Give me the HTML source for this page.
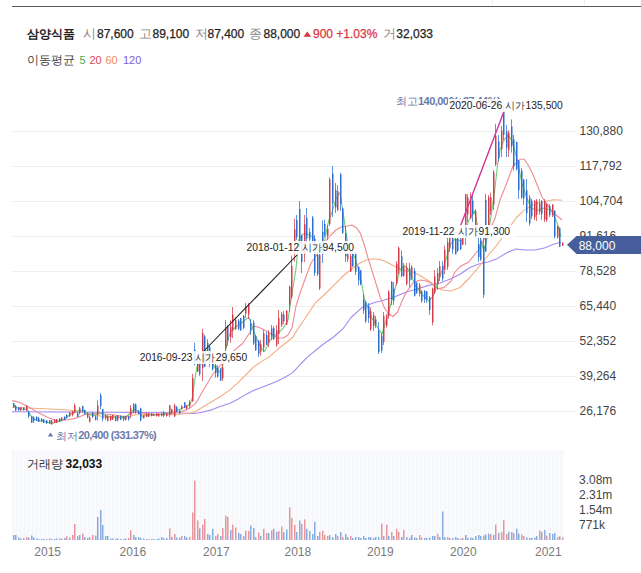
<!DOCTYPE html>
<html><head><meta charset="utf-8">
<style>
*{margin:0;padding:0;box-sizing:border-box}
html,body{width:641px;height:573px;overflow:hidden;background:#fff}
body{position:relative;font-family:"Liberation Sans",sans-serif;color:#222}
.t{position:absolute;white-space:nowrap;line-height:1}
.h{-webkit-text-stroke:0.25px currentColor}
</style></head><body>
<div style="position:absolute;left:12px;top:6px;width:629px;height:1px;background:#5a5a5a"></div>
<div style="position:absolute;left:492px;top:0;width:1px;height:5px;background:#ececec"></div>
<div style="position:absolute;left:584px;top:0;width:1px;height:5px;background:#ececec"></div>
<svg style="position:absolute;left:0;top:0" width="641" height="573" viewBox="0 0 641 573">
<defs><pattern id="vs" x="12" y="0" width="4" height="10" patternUnits="userSpaceOnUse"><rect width="4" height="10" fill="#f9fafc"/><rect width="1" height="10" fill="#f4f6f9"/></pattern></defs>
<g stroke="#efefef" stroke-width="1"><line x1="12" y1="131.5" x2="576" y2="131.5"/><line x1="12" y1="166.5" x2="576" y2="166.5"/><line x1="12" y1="201.5" x2="576" y2="201.5"/><line x1="12" y1="236.5" x2="576" y2="236.5"/><line x1="12" y1="271.5" x2="576" y2="271.5"/><line x1="12" y1="306.5" x2="576" y2="306.5"/><line x1="12" y1="341.5" x2="576" y2="341.5"/><line x1="12" y1="376.5" x2="576" y2="376.5"/><line x1="12" y1="411.5" x2="576" y2="411.5"/></g>
<rect x="12" y="450" width="552" height="90" fill="url(#vs)"/>
<g><rect x="13" y="535.0" width="1.5" height="5.0" fill="#86ace0"/><rect x="15" y="535.0" width="1.5" height="5.0" fill="#86ace0"/><rect x="18" y="537.5" width="1.5" height="2.5" fill="#86ace0"/><rect x="20" y="538.5" width="1.5" height="1.5" fill="#86ace0"/><rect x="23" y="538.0" width="1.5" height="2.0" fill="#e8959b"/><rect x="26" y="537.0" width="1.5" height="3.0" fill="#e8959b"/><rect x="28" y="537.6" width="1.5" height="2.4" fill="#86ace0"/><rect x="31" y="535.5" width="1.5" height="4.5" fill="#86ace0"/><rect x="33" y="537.5" width="1.5" height="2.5" fill="#86ace0"/><rect x="36" y="538.5" width="1.5" height="1.5" fill="#86ace0"/><rect x="38" y="539.0" width="1.5" height="1.0" fill="#86ace0"/><rect x="41" y="539.0" width="1.5" height="1.0" fill="#86ace0"/><rect x="43" y="539.0" width="1.5" height="1.0" fill="#86ace0"/><rect x="46" y="539.0" width="1.5" height="1.0" fill="#86ace0"/><rect x="49" y="538.5" width="1.5" height="1.5" fill="#86ace0"/><rect x="51" y="539.0" width="1.5" height="1.0" fill="#e8959b"/><rect x="54" y="539.0" width="1.5" height="1.0" fill="#86ace0"/><rect x="56" y="538.5" width="1.5" height="1.5" fill="#86ace0"/><rect x="59" y="538.5" width="1.5" height="1.5" fill="#86ace0"/><rect x="61" y="538.5" width="1.5" height="1.5" fill="#e8959b"/><rect x="64" y="538.0" width="1.5" height="2.0" fill="#86ace0"/><rect x="66" y="536.3" width="1.5" height="3.7" fill="#e8959b"/><rect x="69" y="537.5" width="1.5" height="2.5" fill="#86ace0"/><rect x="72" y="535.0" width="1.5" height="5.0" fill="#e8959b"/><rect x="74" y="524.0" width="1.5" height="16.0" fill="#e8959b"/><rect x="77" y="536.3" width="1.5" height="3.7" fill="#86ace0"/><rect x="79" y="535.0" width="1.5" height="5.0" fill="#86ace0"/><rect x="82" y="533.5" width="1.5" height="6.5" fill="#e8959b"/><rect x="84" y="537.0" width="1.5" height="3.0" fill="#86ace0"/><rect x="87" y="538.0" width="1.5" height="2.0" fill="#86ace0"/><rect x="89" y="537.0" width="1.5" height="3.0" fill="#e8959b"/><rect x="92" y="535.0" width="1.5" height="5.0" fill="#e8959b"/><rect x="95" y="535.5" width="1.5" height="4.5" fill="#86ace0"/><rect x="97" y="517.0" width="1.5" height="23.0" fill="#a898cc"/><rect x="100" y="510.0" width="1.5" height="30.0" fill="#86ace0"/><rect x="102" y="525.0" width="1.5" height="15.0" fill="#86ace0"/><rect x="105" y="536.0" width="1.5" height="4.0" fill="#86ace0"/><rect x="107" y="536.0" width="1.5" height="4.0" fill="#86ace0"/><rect x="110" y="538.5" width="1.5" height="1.5" fill="#86ace0"/><rect x="112" y="538.5" width="1.5" height="1.5" fill="#86ace0"/><rect x="115" y="538.7" width="1.5" height="1.3" fill="#86ace0"/><rect x="117" y="538.5" width="1.5" height="1.5" fill="#86ace0"/><rect x="120" y="539.0" width="1.5" height="1.0" fill="#86ace0"/><rect x="123" y="539.0" width="1.5" height="1.0" fill="#86ace0"/><rect x="125" y="538.5" width="1.5" height="1.5" fill="#86ace0"/><rect x="128" y="538.0" width="1.5" height="2.0" fill="#e8959b"/><rect x="130" y="530.3" width="1.5" height="9.7" fill="#e8959b"/><rect x="133" y="535.0" width="1.5" height="5.0" fill="#86ace0"/><rect x="135" y="537.0" width="1.5" height="3.0" fill="#86ace0"/><rect x="138" y="537.0" width="1.5" height="3.0" fill="#86ace0"/><rect x="140" y="538.0" width="1.5" height="2.0" fill="#86ace0"/><rect x="143" y="538.5" width="1.5" height="1.5" fill="#86ace0"/><rect x="146" y="539.0" width="1.5" height="1.0" fill="#86ace0"/><rect x="148" y="539.0" width="1.5" height="1.0" fill="#e8959b"/><rect x="151" y="539.0" width="1.5" height="1.0" fill="#86ace0"/><rect x="153" y="539.0" width="1.5" height="1.0" fill="#86ace0"/><rect x="156" y="539.0" width="1.5" height="1.0" fill="#86ace0"/><rect x="158" y="538.5" width="1.5" height="1.5" fill="#86ace0"/><rect x="161" y="537.0" width="1.5" height="3.0" fill="#86ace0"/><rect x="163" y="538.3" width="1.5" height="1.7" fill="#86ace0"/><rect x="166" y="538.0" width="1.5" height="2.0" fill="#86ace0"/><rect x="169" y="528.4" width="1.5" height="11.6" fill="#e8959b"/><rect x="171" y="537.0" width="1.5" height="3.0" fill="#86ace0"/><rect x="174" y="534.0" width="1.5" height="6.0" fill="#e8959b"/><rect x="176" y="537.5" width="1.5" height="2.5" fill="#86ace0"/><rect x="179" y="537.7" width="1.5" height="2.3" fill="#86ace0"/><rect x="181" y="536.0" width="1.5" height="4.0" fill="#e8959b"/><rect x="184" y="536.0" width="1.5" height="4.0" fill="#86ace0"/><rect x="186" y="537.5" width="1.5" height="2.5" fill="#86ace0"/><rect x="189" y="537.0" width="1.5" height="3.0" fill="#e8959b"/><rect x="192" y="512.5" width="1.5" height="27.5" fill="#e8959b"/><rect x="194" y="480.6" width="1.5" height="59.4" fill="#e8959b"/><rect x="197" y="520.5" width="1.5" height="19.5" fill="#e8959b"/><rect x="199" y="528.4" width="1.5" height="11.6" fill="#86ace0"/><rect x="202" y="524.6" width="1.5" height="15.4" fill="#e8959b"/><rect x="204" y="519.0" width="1.5" height="21.0" fill="#e8959b"/><rect x="207" y="534.0" width="1.5" height="6.0" fill="#86ace0"/><rect x="209" y="535.0" width="1.5" height="5.0" fill="#86ace0"/><rect x="212" y="528.8" width="1.5" height="11.2" fill="#86ace0"/><rect x="215" y="536.0" width="1.5" height="4.0" fill="#e8959b"/><rect x="217" y="534.0" width="1.5" height="6.0" fill="#e8959b"/><rect x="220" y="536.0" width="1.5" height="4.0" fill="#86ace0"/><rect x="222" y="528.0" width="1.5" height="12.0" fill="#e8959b"/><rect x="225" y="515.7" width="1.5" height="24.3" fill="#e8959b"/><rect x="227" y="516.8" width="1.5" height="23.2" fill="#e8959b"/><rect x="230" y="530.0" width="1.5" height="10.0" fill="#86ace0"/><rect x="232" y="524.6" width="1.5" height="15.4" fill="#e8959b"/><rect x="235" y="527.5" width="1.5" height="12.5" fill="#e8959b"/><rect x="238" y="533.0" width="1.5" height="7.0" fill="#86ace0"/><rect x="240" y="534.0" width="1.5" height="6.0" fill="#86ace0"/><rect x="243" y="536.0" width="1.5" height="4.0" fill="#86ace0"/><rect x="245" y="530.6" width="1.5" height="9.4" fill="#e8959b"/><rect x="248" y="531.0" width="1.5" height="9.0" fill="#e8959b"/><rect x="250" y="525.6" width="1.5" height="14.4" fill="#86ace0"/><rect x="253" y="528.0" width="1.5" height="12.0" fill="#86ace0"/><rect x="255" y="537.0" width="1.5" height="3.0" fill="#e8959b"/><rect x="258" y="532.5" width="1.5" height="7.5" fill="#e8959b"/><rect x="260" y="536.0" width="1.5" height="4.0" fill="#86ace0"/><rect x="263" y="528.8" width="1.5" height="11.2" fill="#e8959b"/><rect x="266" y="533.0" width="1.5" height="7.0" fill="#e8959b"/><rect x="268" y="533.0" width="1.5" height="7.0" fill="#86ace0"/><rect x="271" y="530.3" width="1.5" height="9.7" fill="#e8959b"/><rect x="273" y="528.8" width="1.5" height="11.2" fill="#86ace0"/><rect x="276" y="532.0" width="1.5" height="8.0" fill="#86ace0"/><rect x="278" y="531.0" width="1.5" height="9.0" fill="#e8959b"/><rect x="281" y="526.5" width="1.5" height="13.5" fill="#e8959b"/><rect x="283" y="532.0" width="1.5" height="8.0" fill="#86ace0"/><rect x="286" y="529.5" width="1.5" height="10.5" fill="#86ace0"/><rect x="289" y="507.4" width="1.5" height="32.6" fill="#e8959b"/><rect x="291" y="518.0" width="1.5" height="22.0" fill="#e8959b"/><rect x="294" y="525.0" width="1.5" height="15.0" fill="#e8959b"/><rect x="296" y="532.0" width="1.5" height="8.0" fill="#86ace0"/><rect x="299" y="520.5" width="1.5" height="19.5" fill="#86ace0"/><rect x="301" y="523.7" width="1.5" height="16.3" fill="#e8959b"/><rect x="304" y="519.4" width="1.5" height="20.6" fill="#e8959b"/><rect x="306" y="528.8" width="1.5" height="11.2" fill="#86ace0"/><rect x="309" y="531.0" width="1.5" height="9.0" fill="#86ace0"/><rect x="312" y="534.0" width="1.5" height="6.0" fill="#86ace0"/><rect x="314" y="521.8" width="1.5" height="18.2" fill="#86ace0"/><rect x="317" y="536.0" width="1.5" height="4.0" fill="#86ace0"/><rect x="319" y="532.0" width="1.5" height="8.0" fill="#e8959b"/><rect x="322" y="530.6" width="1.5" height="9.4" fill="#e8959b"/><rect x="324" y="535.0" width="1.5" height="5.0" fill="#e8959b"/><rect x="327" y="536.0" width="1.5" height="4.0" fill="#e8959b"/><rect x="329" y="535.0" width="1.5" height="5.0" fill="#86ace0"/><rect x="332" y="537.0" width="1.5" height="3.0" fill="#86ace0"/><rect x="335" y="534.0" width="1.5" height="6.0" fill="#86ace0"/><rect x="337" y="536.0" width="1.5" height="4.0" fill="#e8959b"/><rect x="340" y="532.0" width="1.5" height="8.0" fill="#86ace0"/><rect x="342" y="537.0" width="1.5" height="3.0" fill="#e8959b"/><rect x="345" y="534.0" width="1.5" height="6.0" fill="#86ace0"/><rect x="347" y="537.0" width="1.5" height="3.0" fill="#86ace0"/><rect x="350" y="536.0" width="1.5" height="4.0" fill="#e8959b"/><rect x="352" y="538.0" width="1.5" height="2.0" fill="#86ace0"/><rect x="355" y="537.0" width="1.5" height="3.0" fill="#86ace0"/><rect x="358" y="537.0" width="1.5" height="3.0" fill="#86ace0"/><rect x="360" y="538.0" width="1.5" height="2.0" fill="#86ace0"/><rect x="363" y="536.0" width="1.5" height="4.0" fill="#86ace0"/><rect x="365" y="538.0" width="1.5" height="2.0" fill="#86ace0"/><rect x="368" y="537.0" width="1.5" height="3.0" fill="#86ace0"/><rect x="370" y="537.0" width="1.5" height="3.0" fill="#86ace0"/><rect x="373" y="538.0" width="1.5" height="2.0" fill="#86ace0"/><rect x="375" y="537.0" width="1.5" height="3.0" fill="#86ace0"/><rect x="378" y="537.0" width="1.5" height="3.0" fill="#86ace0"/><rect x="381" y="523.7" width="1.5" height="16.3" fill="#e8959b"/><rect x="383" y="536.0" width="1.5" height="4.0" fill="#86ace0"/><rect x="386" y="524.6" width="1.5" height="15.4" fill="#e8959b"/><rect x="388" y="536.0" width="1.5" height="4.0" fill="#86ace0"/><rect x="391" y="532.1" width="1.5" height="7.9" fill="#e8959b"/><rect x="393" y="536.0" width="1.5" height="4.0" fill="#86ace0"/><rect x="396" y="528.8" width="1.5" height="11.2" fill="#e8959b"/><rect x="398" y="531.8" width="1.5" height="8.2" fill="#e8959b"/><rect x="401" y="537.0" width="1.5" height="3.0" fill="#86ace0"/><rect x="403" y="530.0" width="1.5" height="10.0" fill="#e8959b"/><rect x="406" y="537.0" width="1.5" height="3.0" fill="#86ace0"/><rect x="409" y="538.0" width="1.5" height="2.0" fill="#86ace0"/><rect x="411" y="535.0" width="1.5" height="5.0" fill="#a898cc"/><rect x="414" y="537.5" width="1.5" height="2.5" fill="#86ace0"/><rect x="416" y="538.0" width="1.5" height="2.0" fill="#86ace0"/><rect x="419" y="535.0" width="1.5" height="5.0" fill="#e8959b"/><rect x="421" y="537.5" width="1.5" height="2.5" fill="#e8959b"/><rect x="424" y="538.0" width="1.5" height="2.0" fill="#86ace0"/><rect x="426" y="538.0" width="1.5" height="2.0" fill="#86ace0"/><rect x="429" y="537.5" width="1.5" height="2.5" fill="#86ace0"/><rect x="432" y="536.0" width="1.5" height="4.0" fill="#86ace0"/><rect x="434" y="536.0" width="1.5" height="4.0" fill="#86ace0"/><rect x="437" y="533.7" width="1.5" height="6.3" fill="#e8959b"/><rect x="439" y="537.0" width="1.5" height="3.0" fill="#86ace0"/><rect x="442" y="511.5" width="1.5" height="28.5" fill="#86ace0"/><rect x="444" y="537.0" width="1.5" height="3.0" fill="#86ace0"/><rect x="447" y="537.0" width="1.5" height="3.0" fill="#e8959b"/><rect x="449" y="538.0" width="1.5" height="2.0" fill="#86ace0"/><rect x="452" y="538.0" width="1.5" height="2.0" fill="#86ace0"/><rect x="455" y="537.0" width="1.5" height="3.0" fill="#86ace0"/><rect x="457" y="538.0" width="1.5" height="2.0" fill="#86ace0"/><rect x="460" y="538.6" width="1.5" height="1.4" fill="#86ace0"/><rect x="462" y="538.0" width="1.5" height="2.0" fill="#e8959b"/><rect x="465" y="535.0" width="1.5" height="5.0" fill="#a898cc"/><rect x="467" y="538.0" width="1.5" height="2.0" fill="#86ace0"/><rect x="470" y="537.5" width="1.5" height="2.5" fill="#86ace0"/><rect x="472" y="538.0" width="1.5" height="2.0" fill="#86ace0"/><rect x="475" y="536.0" width="1.5" height="4.0" fill="#86ace0"/><rect x="478" y="535.0" width="1.5" height="5.0" fill="#86ace0"/><rect x="480" y="536.0" width="1.5" height="4.0" fill="#86ace0"/><rect x="483" y="535.5" width="1.5" height="4.5" fill="#86ace0"/><rect x="485" y="534.4" width="1.5" height="5.6" fill="#86ace0"/><rect x="488" y="533.7" width="1.5" height="6.3" fill="#86ace0"/><rect x="490" y="534.0" width="1.5" height="6.0" fill="#e8959b"/><rect x="493" y="535.0" width="1.5" height="5.0" fill="#86ace0"/><rect x="495" y="524.6" width="1.5" height="15.4" fill="#e8959b"/><rect x="498" y="533.0" width="1.5" height="7.0" fill="#a898cc"/><rect x="501" y="532.1" width="1.5" height="7.9" fill="#e8959b"/><rect x="503" y="520.0" width="1.5" height="20.0" fill="#e8959b"/><rect x="506" y="534.0" width="1.5" height="6.0" fill="#e8959b"/><rect x="508" y="531.8" width="1.5" height="8.2" fill="#86ace0"/><rect x="511" y="532.1" width="1.5" height="7.9" fill="#86ace0"/><rect x="513" y="533.0" width="1.5" height="7.0" fill="#e8959b"/><rect x="516" y="528.8" width="1.5" height="11.2" fill="#86ace0"/><rect x="518" y="533.6" width="1.5" height="6.4" fill="#86ace0"/><rect x="521" y="534.4" width="1.5" height="5.6" fill="#e8959b"/><rect x="523" y="536.0" width="1.5" height="4.0" fill="#e8959b"/><rect x="526" y="537.5" width="1.5" height="2.5" fill="#86ace0"/><rect x="529" y="538.0" width="1.5" height="2.0" fill="#86ace0"/><rect x="531" y="538.0" width="1.5" height="2.0" fill="#86ace0"/><rect x="534" y="537.5" width="1.5" height="2.5" fill="#86ace0"/><rect x="536" y="536.0" width="1.5" height="4.0" fill="#86ace0"/><rect x="539" y="530.6" width="1.5" height="9.4" fill="#e8959b"/><rect x="541" y="531.8" width="1.5" height="8.2" fill="#86ace0"/><rect x="544" y="530.0" width="1.5" height="10.0" fill="#86ace0"/><rect x="546" y="535.5" width="1.5" height="4.5" fill="#e8959b"/><rect x="549" y="533.0" width="1.5" height="7.0" fill="#86ace0"/><rect x="552" y="534.0" width="1.5" height="6.0" fill="#86ace0"/><rect x="554" y="533.0" width="1.5" height="7.0" fill="#86ace0"/><rect x="557" y="537.0" width="1.5" height="3.0" fill="#e8959b"/><rect x="559" y="536.3" width="1.5" height="3.7" fill="#86ace0"/><rect x="562" y="537.5" width="1.5" height="2.5" fill="#e8959b"/></g>
<g fill="none" stroke-width="1.1" stroke-linejoin="round">
<polyline points="12.0,411.8 100.0,412.3 175.0,412.8 193.7,413.5 202.5,412.3 211.2,409.9 220.0,406.4 230.0,403.2 237.8,399.3 245.7,394.6 253.5,390.6 261.4,387.5 269.2,384.4 277.1,381.2 285.0,377.3 292.8,372.6 300.6,364.0 308.5,356.1 316.3,349.8 324.2,343.5 333.6,337.0 343.0,328.7 351.0,317.5 362.0,307.6 373.0,303.0 384.3,300.0 395.4,296.5 406.5,292.0 417.6,288.8 428.7,285.4 440.0,283.0 451.0,278.8 460.0,274.3 469.4,267.7 478.7,264.0 488.0,262.0 497.5,258.4 506.8,252.7 516.0,249.0 525.5,250.0 535.0,250.0 544.3,248.0 553.6,244.3 561.0,242.0" stroke="#a48af0"/>
<polyline points="12.0,407.5 40.0,408.5 65.0,409.8 75.0,410.8 85.0,412.8 95.0,415.0 105.0,417.0 115.0,417.2 125.0,417.5 136.0,414.7 147.0,414.7 158.0,414.7 168.7,414.7 179.6,414.2 186.0,413.5 193.7,412.5 202.5,407.3 211.2,402.0 220.0,396.8 230.0,389.9 237.8,382.8 245.7,375.0 253.5,367.1 261.4,361.6 269.2,356.9 277.1,349.8 285.0,343.5 292.8,337.3 297.5,329.4 305.4,318.0 315.0,303.4 324.0,295.0 333.6,285.6 343.0,276.0 352.0,268.7 360.0,263.0 366.6,260.0 373.0,258.8 380.0,259.5 386.6,262.0 393.0,265.5 400.0,268.8 406.5,271.0 413.0,272.0 420.0,275.5 428.7,281.0 435.3,286.5 442.0,290.0 451.0,291.0 460.0,287.5 469.4,278.0 478.7,266.8 488.0,255.5 497.5,244.3 506.8,231.2 516.0,218.0 523.7,210.6 531.0,206.0 538.6,203.0 546.0,201.2 553.6,199.7 562.0,200.3" stroke="#f5ad80"/>
<polyline points="12.3,400.6 19.4,402.3 28.7,407.0 38.0,412.6 47.5,417.3 54.0,420.0 58.7,421.0 66.2,420.0 75.0,418.4 85.0,414.4 95.0,413.5 105.0,414.0 115.0,415.0 125.0,417.0 130.5,414.0 136.0,411.5 141.4,412.6 146.8,414.2 157.8,414.7 168.7,413.6 174.0,412.9 179.6,412.0 185.0,410.4 190.5,407.7 195.0,403.8 197.2,401.0 202.5,391.6 207.7,382.8 213.0,374.0 218.2,368.0 223.4,362.0 228.6,355.0 233.1,351.4 242.6,343.5 248.8,334.1 253.5,326.3 258.3,327.0 266.1,331.0 274.0,335.7 278.7,338.0 283.4,338.0 288.0,335.0 292.0,327.8 296.0,306.0 300.0,293.0 305.5,278.0 311.0,263.0 315.0,257.5 318.6,252.0 324.0,243.0 330.5,235.5 336.0,230.0 341.8,226.7 347.4,226.0 352.0,225.0 356.8,228.0 360.5,233.6 364.3,245.0 368.0,258.0 373.0,274.0 380.0,296.5 384.3,307.6 388.8,314.0 393.0,316.5 397.6,312.0 402.0,301.0 406.5,292.0 413.0,283.0 420.0,280.0 426.5,281.0 431.0,283.0 437.6,288.8 444.0,287.6 451.0,281.0 455.0,272.0 460.0,266.6 468.7,262.0 478.0,250.5 487.4,233.7 494.9,218.7 500.0,200.0 506.5,183.7 513.0,166.0 520.0,159.3 524.3,159.3 528.7,166.0 533.0,174.8 537.6,186.0 542.0,197.0 546.4,203.6 553.0,212.5 562.0,220.0" stroke="#f08a92"/>
<polyline points="12.8,404.0 15.6,407.0 19.4,408.9 24.0,409.3 26.9,409.8 28.7,412.6 31.5,416.3 34.3,419.0 38.0,420.6 42.8,421.0 47.5,422.4 52.0,423.4 56.8,422.0 61.5,420.6 66.2,418.2 70.0,414.4 75.0,411.8 80.0,410.3 85.0,411.8 90.4,414.9 95.4,415.4 99.5,412.3 103.5,414.4 107.6,416.4 115.7,417.0 125.0,418.0 130.5,413.0 133.7,409.3 137.0,410.4 140.3,414.2 142.5,416.4 146.8,414.7 157.8,414.7 168.7,413.0 173.0,412.0 177.4,410.4 181.8,408.2 186.1,406.6 190.5,403.3 192.3,398.0 194.6,381.0 197.2,365.4 201.0,364.0 204.2,353.0 207.7,349.7 211.0,360.0 214.7,367.0 220.0,372.4 223.4,363.6 226.9,342.7 230.4,332.2 235.6,327.0 240.8,323.5 245.0,320.0 249.0,317.4 252.0,326.3 256.7,338.8 261.4,348.3 264.5,351.4 269.2,342.0 274.0,335.7 278.7,332.6 283.4,327.8 288.0,320.0 292.4,291.0 296.0,268.7 298.7,240.0 302.0,234.5 306.0,233.6 313.7,237.4 319.0,254.0 325.0,239.0 328.7,220.5 332.4,211.0 336.2,198.0 340.0,192.5 343.7,216.8 347.4,241.0 351.0,250.5 355.0,258.0 360.0,274.3 364.4,298.7 371.0,316.5 377.7,327.6 382.0,334.0 386.6,318.7 393.0,296.5 400.0,270.0 404.3,265.5 408.7,270.0 415.4,285.4 422.0,294.3 428.7,301.0 433.0,296.5 437.6,283.0 444.0,265.5 451.0,243.3 455.3,238.9 461.0,241.0 465.0,232.0 468.7,220.5 474.3,211.0 480.0,235.5 483.6,250.5 487.4,237.4 491.0,216.8 494.9,188.7 497.5,165.0 500.0,150.4 504.3,139.3 508.7,135.0 513.2,143.8 517.6,161.5 522.0,183.7 526.5,197.0 531.0,208.0 537.6,210.3 544.0,208.0 551.0,210.3 555.3,219.0 557.4,223.7 561.0,236.8" stroke="#74cc78"/>
</g>
<g><rect x="13" y="402.8" width="1" height="4.6" fill="#2b6fd0" opacity=".75"/><rect x="13" y="403.2" width="1.5" height="3.9" fill="#2b6fd0"/><rect x="15" y="405.0" width="1" height="5.7" fill="#2b6fd0" opacity=".75"/><rect x="15" y="406.1" width="1.5" height="4.5" fill="#2b6fd0"/><rect x="18" y="407.0" width="1" height="3.7" fill="#2b6fd0" opacity=".75"/><rect x="18" y="407.6" width="1.5" height="2.7" fill="#2b6fd0"/><rect x="20" y="407.0" width="1" height="3.7" fill="#d23c4b" opacity=".75"/><rect x="20" y="407.1" width="1.5" height="3.1" fill="#d23c4b"/><rect x="23" y="407.5" width="1" height="3.0" fill="#2b6fd0" opacity=".75"/><rect x="23" y="407.5" width="1.5" height="2.6" fill="#2b6fd0"/><rect x="26" y="405.6" width="1" height="5.1" fill="#d23c4b" opacity=".75"/><rect x="26" y="405.7" width="1.5" height="4.9" fill="#d23c4b"/><rect x="28" y="410.7" width="1" height="7.5" fill="#2b6fd0" opacity=".75"/><rect x="28" y="411.7" width="1.5" height="4.7" fill="#2b6fd0"/><rect x="31" y="416.3" width="1" height="6.7" fill="#2b6fd0" opacity=".75"/><rect x="31" y="416.5" width="1.5" height="6.0" fill="#2b6fd0"/><rect x="33" y="416.3" width="1" height="6.7" fill="#2b6fd0" opacity=".75"/><rect x="33" y="417.6" width="1.5" height="3.5" fill="#2b6fd0"/><rect x="36" y="416.3" width="1" height="4.7" fill="#2b6fd0" opacity=".75"/><rect x="36" y="417.1" width="1.5" height="3.3" fill="#2b6fd0"/><rect x="38" y="416.8" width="1" height="5.2" fill="#2b6fd0" opacity=".75"/><rect x="38" y="418.3" width="1.5" height="3.6" fill="#2b6fd0"/><rect x="41" y="418.0" width="1" height="4.0" fill="#2b6fd0" opacity=".75"/><rect x="41" y="419.0" width="1.5" height="2.6" fill="#2b6fd0"/><rect x="43" y="419.0" width="1" height="4.0" fill="#2b6fd0" opacity=".75"/><rect x="43" y="419.2" width="1.5" height="3.7" fill="#2b6fd0"/><rect x="46" y="420.0" width="1" height="4.0" fill="#2b6fd0" opacity=".75"/><rect x="46" y="420.4" width="1.5" height="2.7" fill="#2b6fd0"/><rect x="49" y="420.0" width="1" height="4.0" fill="#2b6fd0" opacity=".75"/><rect x="49" y="420.2" width="1.5" height="3.1" fill="#2b6fd0"/><rect x="51" y="420.0" width="1" height="4.8" fill="#d23c4b" opacity=".75"/><rect x="51" y="420.9" width="1.5" height="3.3" fill="#d23c4b"/><rect x="54" y="419.0" width="1" height="4.0" fill="#d23c4b" opacity=".75"/><rect x="54" y="419.7" width="1.5" height="3.3" fill="#d23c4b"/><rect x="56" y="419.0" width="1" height="4.0" fill="#d23c4b" opacity=".75"/><rect x="56" y="419.1" width="1.5" height="3.7" fill="#d23c4b"/><rect x="59" y="418.0" width="1" height="4.0" fill="#2b6fd0" opacity=".75"/><rect x="59" y="418.8" width="1.5" height="2.7" fill="#2b6fd0"/><rect x="61" y="417.3" width="1" height="3.7" fill="#d23c4b" opacity=".75"/><rect x="61" y="417.6" width="1.5" height="2.7" fill="#d23c4b"/><rect x="64" y="416.3" width="1" height="3.7" fill="#2b6fd0" opacity=".75"/><rect x="64" y="416.8" width="1.5" height="2.9" fill="#2b6fd0"/><rect x="66" y="414.0" width="1" height="4.4" fill="#2b6fd0" opacity=".75"/><rect x="66" y="415.0" width="1.5" height="2.4" fill="#2b6fd0"/><rect x="69" y="412.0" width="1" height="5.0" fill="#d23c4b" opacity=".75"/><rect x="69" y="412.4" width="1.5" height="3.8" fill="#d23c4b"/><rect x="72" y="410.8" width="1" height="5.6" fill="#d23c4b" opacity=".75"/><rect x="72" y="411.7" width="1.5" height="3.2" fill="#d23c4b"/><rect x="74" y="403.2" width="1" height="10.2" fill="#d23c4b" opacity=".75"/><rect x="74" y="405.4" width="1.5" height="7.1" fill="#d23c4b"/><rect x="77" y="411.8" width="1" height="5.2" fill="#2b6fd0" opacity=".75"/><rect x="77" y="413.3" width="1.5" height="3.5" fill="#2b6fd0"/><rect x="79" y="406.8" width="1" height="7.6" fill="#d23c4b" opacity=".75"/><rect x="79" y="407.8" width="1.5" height="4.9" fill="#d23c4b"/><rect x="82" y="405.7" width="1" height="6.6" fill="#2b6fd0" opacity=".75"/><rect x="82" y="406.0" width="1.5" height="5.3" fill="#2b6fd0"/><rect x="84" y="409.8" width="1" height="5.1" fill="#2b6fd0" opacity=".75"/><rect x="84" y="409.9" width="1.5" height="4.0" fill="#2b6fd0"/><rect x="87" y="412.5" width="1" height="5.9" fill="#d23c4b" opacity=".75"/><rect x="87" y="413.9" width="1.5" height="3.5" fill="#d23c4b"/><rect x="89" y="415.5" width="1" height="7.0" fill="#d23c4b" opacity=".75"/><rect x="89" y="417.3" width="1.5" height="4.5" fill="#d23c4b"/><rect x="92" y="411.8" width="1" height="6.2" fill="#2b6fd0" opacity=".75"/><rect x="92" y="413.1" width="1.5" height="3.8" fill="#2b6fd0"/><rect x="95" y="415.4" width="1" height="5.1" fill="#2b6fd0" opacity=".75"/><rect x="95" y="416.3" width="1.5" height="3.5" fill="#2b6fd0"/><rect x="97" y="400.2" width="1" height="20.3" fill="#d23c4b" opacity=".75"/><rect x="97" y="405.3" width="1.5" height="9.4" fill="#d23c4b"/><rect x="100" y="393.0" width="1" height="16.3" fill="#2b6fd0" opacity=".75"/><rect x="100" y="395.3" width="1.5" height="10.7" fill="#2b6fd0"/><rect x="102" y="408.8" width="1" height="12.7" fill="#2b6fd0" opacity=".75"/><rect x="102" y="409.0" width="1.5" height="9.8" fill="#2b6fd0"/><rect x="105" y="414.5" width="1" height="5.5" fill="#d23c4b" opacity=".75"/><rect x="105" y="415.6" width="1.5" height="2.8" fill="#d23c4b"/><rect x="107" y="415.0" width="1" height="6.5" fill="#d23c4b" opacity=".75"/><rect x="107" y="416.6" width="1.5" height="4.3" fill="#d23c4b"/><rect x="110" y="415.5" width="1" height="5.5" fill="#d23c4b" opacity=".75"/><rect x="110" y="416.1" width="1.5" height="3.8" fill="#d23c4b"/><rect x="112" y="415.0" width="1" height="5.0" fill="#d23c4b" opacity=".75"/><rect x="112" y="415.0" width="1.5" height="4.3" fill="#d23c4b"/><rect x="115" y="416.0" width="1" height="5.0" fill="#2b6fd0" opacity=".75"/><rect x="115" y="416.3" width="1.5" height="4.6" fill="#2b6fd0"/><rect x="117" y="415.0" width="1" height="6.5" fill="#d23c4b" opacity=".75"/><rect x="117" y="415.1" width="1.5" height="4.9" fill="#d23c4b"/><rect x="120" y="415.5" width="1" height="4.5" fill="#2b6fd0" opacity=".75"/><rect x="120" y="415.7" width="1.5" height="4.0" fill="#2b6fd0"/><rect x="123" y="415.5" width="1" height="5.5" fill="#2b6fd0" opacity=".75"/><rect x="123" y="416.1" width="1.5" height="3.4" fill="#2b6fd0"/><rect x="125" y="415.8" width="1" height="4.9" fill="#d23c4b" opacity=".75"/><rect x="125" y="415.9" width="1.5" height="4.1" fill="#d23c4b"/><rect x="128" y="415.8" width="1" height="4.9" fill="#2b6fd0" opacity=".75"/><rect x="128" y="416.6" width="1.5" height="2.8" fill="#2b6fd0"/><rect x="130" y="405.0" width="1" height="13.0" fill="#d23c4b" opacity=".75"/><rect x="130" y="408.2" width="1.5" height="6.4" fill="#d23c4b"/><rect x="133" y="403.3" width="1" height="9.7" fill="#2b6fd0" opacity=".75"/><rect x="133" y="404.1" width="1.5" height="7.7" fill="#2b6fd0"/><rect x="135" y="403.3" width="1" height="10.4" fill="#2b6fd0" opacity=".75"/><rect x="135" y="404.4" width="1.5" height="6.5" fill="#2b6fd0"/><rect x="138" y="409.8" width="1" height="4.4" fill="#2b6fd0" opacity=".75"/><rect x="138" y="411.1" width="1.5" height="2.9" fill="#2b6fd0"/><rect x="140" y="407.7" width="1" height="13.6" fill="#2b6fd0" opacity=".75"/><rect x="140" y="408.4" width="1.5" height="11.9" fill="#2b6fd0"/><rect x="143" y="415.3" width="1" height="3.3" fill="#d23c4b" opacity=".75"/><rect x="143" y="415.5" width="1.5" height="2.6" fill="#d23c4b"/><rect x="146" y="412.6" width="1" height="4.4" fill="#d23c4b" opacity=".75"/><rect x="146" y="413.4" width="1.5" height="3.3" fill="#d23c4b"/><rect x="148" y="413.0" width="1" height="4.0" fill="#d23c4b" opacity=".75"/><rect x="148" y="413.0" width="1.5" height="3.5" fill="#d23c4b"/><rect x="151" y="413.0" width="1" height="3.5" fill="#d23c4b" opacity=".75"/><rect x="151" y="413.4" width="1.5" height="2.5" fill="#d23c4b"/><rect x="153" y="413.5" width="1" height="2.5" fill="#2b6fd0" opacity=".75"/><rect x="153" y="414.2" width="1.5" height="1.3" fill="#2b6fd0"/><rect x="156" y="413.0" width="1" height="3.5" fill="#d23c4b" opacity=".75"/><rect x="156" y="413.5" width="1.5" height="2.3" fill="#d23c4b"/><rect x="158" y="413.0" width="1" height="3.5" fill="#d23c4b" opacity=".75"/><rect x="158" y="413.7" width="1.5" height="2.7" fill="#d23c4b"/><rect x="161" y="413.0" width="1" height="3.5" fill="#d23c4b" opacity=".75"/><rect x="161" y="413.9" width="1.5" height="1.7" fill="#d23c4b"/><rect x="163" y="411.0" width="1" height="6.0" fill="#2b6fd0" opacity=".75"/><rect x="163" y="412.6" width="1.5" height="3.0" fill="#2b6fd0"/><rect x="166" y="413.0" width="1" height="3.5" fill="#d23c4b" opacity=".75"/><rect x="166" y="413.4" width="1.5" height="2.7" fill="#d23c4b"/><rect x="169" y="405.0" width="1" height="12.0" fill="#d23c4b" opacity=".75"/><rect x="169" y="405.4" width="1.5" height="9.3" fill="#d23c4b"/><rect x="171" y="408.7" width="1" height="5.5" fill="#d23c4b" opacity=".75"/><rect x="171" y="409.0" width="1.5" height="3.6" fill="#d23c4b"/><rect x="174" y="403.8" width="1" height="13.2" fill="#d23c4b" opacity=".75"/><rect x="174" y="405.5" width="1.5" height="11.0" fill="#d23c4b"/><rect x="176" y="406.0" width="1" height="6.0" fill="#2b6fd0" opacity=".75"/><rect x="176" y="407.1" width="1.5" height="4.7" fill="#2b6fd0"/><rect x="179" y="409.8" width="1" height="3.9" fill="#2b6fd0" opacity=".75"/><rect x="179" y="410.5" width="1.5" height="2.6" fill="#2b6fd0"/><rect x="181" y="405.0" width="1" height="4.8" fill="#d23c4b" opacity=".75"/><rect x="181" y="406.4" width="1.5" height="2.5" fill="#d23c4b"/><rect x="184" y="402.2" width="1" height="6.0" fill="#2b6fd0" opacity=".75"/><rect x="184" y="402.3" width="1.5" height="5.5" fill="#2b6fd0"/><rect x="186" y="405.0" width="1" height="4.8" fill="#d23c4b" opacity=".75"/><rect x="186" y="405.5" width="1.5" height="3.3" fill="#d23c4b"/><rect x="189" y="400.0" width="1" height="7.7" fill="#d23c4b" opacity=".75"/><rect x="189" y="402.2" width="1.5" height="4.1" fill="#d23c4b"/><rect x="192" y="374.0" width="1" height="28.0" fill="#d23c4b" opacity=".75"/><rect x="192" y="378.0" width="1.5" height="23.0" fill="#d23c4b"/><rect x="194" y="342.7" width="1" height="22.7" fill="#2b6fd0" opacity=".75"/><rect x="194" y="349.5" width="1.5" height="12.8" fill="#2b6fd0"/><rect x="197" y="360.0" width="1" height="12.0" fill="#d23c4b" opacity=".75"/><rect x="197" y="361.7" width="1.5" height="9.9" fill="#d23c4b"/><rect x="199" y="361.0" width="1" height="14.8" fill="#2b6fd0" opacity=".75"/><rect x="199" y="361.5" width="1.5" height="12.8" fill="#2b6fd0"/><rect x="202" y="328.7" width="1" height="52.3" fill="#d23c4b" opacity=".75"/><rect x="202" y="332.9" width="1.5" height="35.1" fill="#d23c4b"/><rect x="204" y="334.8" width="1" height="32.2" fill="#2b6fd0" opacity=".75"/><rect x="204" y="336.4" width="1.5" height="30.4" fill="#2b6fd0"/><rect x="207" y="339.2" width="1" height="13.1" fill="#2b6fd0" opacity=".75"/><rect x="207" y="342.9" width="1.5" height="7.3" fill="#2b6fd0"/><rect x="209" y="346.0" width="1" height="21.0" fill="#2b6fd0" opacity=".75"/><rect x="209" y="346.9" width="1.5" height="16.7" fill="#2b6fd0"/><rect x="212" y="362.0" width="1" height="8.6" fill="#2b6fd0" opacity=".75"/><rect x="212" y="362.1" width="1.5" height="7.2" fill="#2b6fd0"/><rect x="215" y="360.0" width="1" height="17.6" fill="#2b6fd0" opacity=".75"/><rect x="215" y="365.2" width="1.5" height="7.9" fill="#2b6fd0"/><rect x="217" y="365.4" width="1" height="12.2" fill="#2b6fd0" opacity=".75"/><rect x="217" y="367.9" width="1.5" height="8.7" fill="#2b6fd0"/><rect x="220" y="368.0" width="1" height="13.0" fill="#2b6fd0" opacity=".75"/><rect x="220" y="369.4" width="1.5" height="10.9" fill="#2b6fd0"/><rect x="222" y="363.6" width="1" height="17.4" fill="#d23c4b" opacity=".75"/><rect x="222" y="367.6" width="1.5" height="10.6" fill="#d23c4b"/><rect x="225" y="320.0" width="1" height="31.4" fill="#d23c4b" opacity=".75"/><rect x="225" y="327.3" width="1.5" height="21.0" fill="#d23c4b"/><rect x="227" y="325.0" width="1" height="21.0" fill="#2b6fd0" opacity=".75"/><rect x="227" y="326.4" width="1.5" height="14.5" fill="#2b6fd0"/><rect x="230" y="320.0" width="1" height="22.7" fill="#d23c4b" opacity=".75"/><rect x="230" y="326.7" width="1.5" height="10.2" fill="#d23c4b"/><rect x="232" y="307.0" width="1" height="31.0" fill="#d23c4b" opacity=".75"/><rect x="232" y="314.5" width="1.5" height="15.9" fill="#d23c4b"/><rect x="235" y="317.0" width="1" height="13.0" fill="#d23c4b" opacity=".75"/><rect x="235" y="319.9" width="1.5" height="9.2" fill="#d23c4b"/><rect x="238" y="319.0" width="1" height="11.0" fill="#2b6fd0" opacity=".75"/><rect x="238" y="320.7" width="1.5" height="8.1" fill="#2b6fd0"/><rect x="240" y="318.0" width="1" height="12.5" fill="#2b6fd0" opacity=".75"/><rect x="240" y="318.1" width="1.5" height="12.3" fill="#2b6fd0"/><rect x="243" y="315.0" width="1" height="14.0" fill="#2b6fd0" opacity=".75"/><rect x="243" y="316.2" width="1.5" height="11.7" fill="#2b6fd0"/><rect x="245" y="303.0" width="1" height="15.0" fill="#d23c4b" opacity=".75"/><rect x="245" y="306.1" width="1.5" height="7.6" fill="#d23c4b"/><rect x="248" y="303.0" width="1" height="16.0" fill="#d23c4b" opacity=".75"/><rect x="248" y="305.1" width="1.5" height="9.4" fill="#d23c4b"/><rect x="250" y="319.0" width="1" height="16.0" fill="#2b6fd0" opacity=".75"/><rect x="250" y="323.7" width="1.5" height="6.7" fill="#2b6fd0"/><rect x="253" y="320.0" width="1" height="25.0" fill="#2b6fd0" opacity=".75"/><rect x="253" y="322.7" width="1.5" height="20.6" fill="#2b6fd0"/><rect x="255" y="335.0" width="1" height="16.0" fill="#2b6fd0" opacity=".75"/><rect x="255" y="336.1" width="1.5" height="14.0" fill="#2b6fd0"/><rect x="258" y="340.0" width="1" height="17.0" fill="#2b6fd0" opacity=".75"/><rect x="258" y="341.0" width="1.5" height="12.8" fill="#2b6fd0"/><rect x="260" y="340.0" width="1" height="15.8" fill="#d23c4b" opacity=".75"/><rect x="260" y="344.3" width="1.5" height="7.5" fill="#d23c4b"/><rect x="263" y="330.0" width="1" height="22.0" fill="#d23c4b" opacity=".75"/><rect x="263" y="333.2" width="1.5" height="14.5" fill="#d23c4b"/><rect x="266" y="332.0" width="1" height="13.0" fill="#2b6fd0" opacity=".75"/><rect x="266" y="335.1" width="1.5" height="9.6" fill="#2b6fd0"/><rect x="268" y="330.0" width="1" height="17.0" fill="#d23c4b" opacity=".75"/><rect x="268" y="333.4" width="1.5" height="9.0" fill="#d23c4b"/><rect x="271" y="325.0" width="1" height="15.0" fill="#2b6fd0" opacity=".75"/><rect x="271" y="328.5" width="1.5" height="8.1" fill="#2b6fd0"/><rect x="273" y="326.0" width="1" height="14.0" fill="#2b6fd0" opacity=".75"/><rect x="273" y="328.0" width="1.5" height="11.2" fill="#2b6fd0"/><rect x="276" y="325.0" width="1" height="22.0" fill="#d23c4b" opacity=".75"/><rect x="276" y="330.2" width="1.5" height="14.6" fill="#d23c4b"/><rect x="278" y="310.0" width="1" height="34.0" fill="#d23c4b" opacity=".75"/><rect x="278" y="318.2" width="1.5" height="15.9" fill="#d23c4b"/><rect x="281" y="312.0" width="1" height="15.0" fill="#d23c4b" opacity=".75"/><rect x="281" y="313.8" width="1.5" height="11.4" fill="#d23c4b"/><rect x="283" y="311.0" width="1" height="13.0" fill="#2b6fd0" opacity=".75"/><rect x="283" y="314.7" width="1.5" height="6.5" fill="#2b6fd0"/><rect x="286" y="310.0" width="1" height="15.0" fill="#d23c4b" opacity=".75"/><rect x="286" y="310.8" width="1.5" height="13.7" fill="#d23c4b"/><rect x="289" y="285.6" width="1" height="26.2" fill="#d23c4b" opacity=".75"/><rect x="289" y="286.8" width="1.5" height="17.9" fill="#d23c4b"/><rect x="291" y="255.6" width="1" height="43.1" fill="#d23c4b" opacity=".75"/><rect x="291" y="266.0" width="1.5" height="30.8" fill="#d23c4b"/><rect x="294" y="218.7" width="1" height="43.0" fill="#d23c4b" opacity=".75"/><rect x="294" y="229.4" width="1.5" height="19.7" fill="#d23c4b"/><rect x="296" y="215.0" width="1" height="25.0" fill="#2b6fd0" opacity=".75"/><rect x="296" y="219.9" width="1.5" height="17.4" fill="#2b6fd0"/><rect x="299" y="201.0" width="1" height="47.6" fill="#2b6fd0" opacity=".75"/><rect x="299" y="208.8" width="1.5" height="37.9" fill="#2b6fd0"/><rect x="301" y="235.0" width="1" height="38.0" fill="#2b6fd0" opacity=".75"/><rect x="301" y="235.2" width="1.5" height="26.8" fill="#2b6fd0"/><rect x="304" y="215.0" width="1" height="47.0" fill="#d23c4b" opacity=".75"/><rect x="304" y="224.2" width="1.5" height="30.4" fill="#d23c4b"/><rect x="306" y="208.0" width="1" height="35.0" fill="#2b6fd0" opacity=".75"/><rect x="306" y="217.8" width="1.5" height="20.6" fill="#2b6fd0"/><rect x="309" y="228.0" width="1" height="15.0" fill="#2b6fd0" opacity=".75"/><rect x="309" y="231.9" width="1.5" height="7.4" fill="#2b6fd0"/><rect x="312" y="216.0" width="1" height="27.0" fill="#2b6fd0" opacity=".75"/><rect x="312" y="217.7" width="1.5" height="23.3" fill="#2b6fd0"/><rect x="314" y="235.0" width="1" height="41.0" fill="#2b6fd0" opacity=".75"/><rect x="314" y="238.6" width="1.5" height="34.4" fill="#2b6fd0"/><rect x="317" y="250.5" width="1" height="25.5" fill="#2b6fd0" opacity=".75"/><rect x="317" y="255.0" width="1.5" height="19.0" fill="#2b6fd0"/><rect x="319" y="250.0" width="1" height="40.0" fill="#d23c4b" opacity=".75"/><rect x="319" y="255.0" width="1.5" height="33.4" fill="#d23c4b"/><rect x="322" y="220.5" width="1" height="42.5" fill="#2b6fd0" opacity=".75"/><rect x="322" y="231.9" width="1.5" height="22.6" fill="#2b6fd0"/><rect x="324" y="219.6" width="1" height="17.8" fill="#2b6fd0" opacity=".75"/><rect x="324" y="224.0" width="1.5" height="10.7" fill="#2b6fd0"/><rect x="327" y="225.0" width="1" height="15.0" fill="#d23c4b" opacity=".75"/><rect x="327" y="228.7" width="1.5" height="7.3" fill="#d23c4b"/><rect x="329" y="177.5" width="1" height="48.5" fill="#d23c4b" opacity=".75"/><rect x="329" y="179.4" width="1.5" height="44.4" fill="#d23c4b"/><rect x="332" y="166.0" width="1" height="50.8" fill="#2b6fd0" opacity=".75"/><rect x="332" y="173.8" width="1.5" height="29.7" fill="#2b6fd0"/><rect x="335" y="183.0" width="1" height="30.0" fill="#2b6fd0" opacity=".75"/><rect x="335" y="190.0" width="1.5" height="17.5" fill="#2b6fd0"/><rect x="337" y="185.0" width="1" height="26.0" fill="#d23c4b" opacity=".75"/><rect x="337" y="191.1" width="1.5" height="18.8" fill="#d23c4b"/><rect x="340" y="172.8" width="1" height="38.2" fill="#2b6fd0" opacity=".75"/><rect x="340" y="174.4" width="1.5" height="29.5" fill="#2b6fd0"/><rect x="342" y="207.4" width="1" height="26.2" fill="#2b6fd0" opacity=".75"/><rect x="342" y="208.3" width="1.5" height="24.8" fill="#2b6fd0"/><rect x="345" y="226.0" width="1" height="36.0" fill="#2b6fd0" opacity=".75"/><rect x="345" y="233.4" width="1.5" height="22.9" fill="#2b6fd0"/><rect x="347" y="250.0" width="1" height="12.0" fill="#d23c4b" opacity=".75"/><rect x="347" y="251.7" width="1.5" height="7.5" fill="#d23c4b"/><rect x="350" y="250.0" width="1" height="22.0" fill="#d23c4b" opacity=".75"/><rect x="350" y="255.8" width="1.5" height="15.8" fill="#d23c4b"/><rect x="352" y="251.0" width="1" height="15.6" fill="#2b6fd0" opacity=".75"/><rect x="352" y="251.9" width="1.5" height="14.5" fill="#2b6fd0"/><rect x="355" y="252.0" width="1" height="23.0" fill="#2b6fd0" opacity=".75"/><rect x="355" y="252.7" width="1.5" height="19.2" fill="#2b6fd0"/><rect x="358" y="266.6" width="1" height="18.8" fill="#2b6fd0" opacity=".75"/><rect x="358" y="266.8" width="1.5" height="13.6" fill="#2b6fd0"/><rect x="360" y="270.0" width="1" height="15.4" fill="#2b6fd0" opacity=".75"/><rect x="360" y="270.3" width="1.5" height="13.6" fill="#2b6fd0"/><rect x="363" y="294.0" width="1" height="20.0" fill="#2b6fd0" opacity=".75"/><rect x="363" y="299.8" width="1.5" height="10.5" fill="#2b6fd0"/><rect x="365" y="301.0" width="1" height="22.0" fill="#2b6fd0" opacity=".75"/><rect x="365" y="302.3" width="1.5" height="18.9" fill="#2b6fd0"/><rect x="368" y="303.0" width="1" height="20.0" fill="#2b6fd0" opacity=".75"/><rect x="368" y="306.0" width="1.5" height="12.1" fill="#2b6fd0"/><rect x="370" y="307.6" width="1" height="23.4" fill="#d23c4b" opacity=".75"/><rect x="370" y="311.2" width="1.5" height="18.1" fill="#d23c4b"/><rect x="373" y="312.0" width="1" height="19.0" fill="#d23c4b" opacity=".75"/><rect x="373" y="315.0" width="1.5" height="11.0" fill="#d23c4b"/><rect x="375" y="316.0" width="1" height="12.0" fill="#2b6fd0" opacity=".75"/><rect x="375" y="319.3" width="1.5" height="5.3" fill="#2b6fd0"/><rect x="378" y="322.0" width="1" height="32.0" fill="#2b6fd0" opacity=".75"/><rect x="378" y="330.6" width="1.5" height="21.5" fill="#2b6fd0"/><rect x="381" y="333.0" width="1" height="20.0" fill="#2b6fd0" opacity=".75"/><rect x="381" y="335.7" width="1.5" height="14.8" fill="#2b6fd0"/><rect x="383" y="312.0" width="1" height="33.0" fill="#d23c4b" opacity=".75"/><rect x="383" y="315.9" width="1.5" height="26.0" fill="#d23c4b"/><rect x="386" y="314.0" width="1" height="13.6" fill="#d23c4b" opacity=".75"/><rect x="386" y="316.7" width="1.5" height="9.1" fill="#d23c4b"/><rect x="388" y="290.0" width="1" height="28.7" fill="#d23c4b" opacity=".75"/><rect x="388" y="291.8" width="1.5" height="24.3" fill="#d23c4b"/><rect x="391" y="281.0" width="1" height="24.0" fill="#2b6fd0" opacity=".75"/><rect x="391" y="281.9" width="1.5" height="17.5" fill="#2b6fd0"/><rect x="393" y="282.0" width="1" height="23.0" fill="#2b6fd0" opacity=".75"/><rect x="393" y="288.5" width="1.5" height="12.1" fill="#2b6fd0"/><rect x="396" y="261.0" width="1" height="24.4" fill="#d23c4b" opacity=".75"/><rect x="396" y="263.7" width="1.5" height="19.9" fill="#d23c4b"/><rect x="398" y="246.6" width="1" height="27.7" fill="#d23c4b" opacity=".75"/><rect x="398" y="247.7" width="1.5" height="22.7" fill="#d23c4b"/><rect x="401" y="250.5" width="1" height="26.5" fill="#2b6fd0" opacity=".75"/><rect x="401" y="256.4" width="1.5" height="19.8" fill="#2b6fd0"/><rect x="403" y="263.0" width="1" height="13.6" fill="#d23c4b" opacity=".75"/><rect x="403" y="266.6" width="1.5" height="9.3" fill="#d23c4b"/><rect x="406" y="263.0" width="1" height="22.4" fill="#d23c4b" opacity=".75"/><rect x="406" y="267.5" width="1.5" height="16.4" fill="#d23c4b"/><rect x="409" y="263.0" width="1" height="24.6" fill="#2b6fd0" opacity=".75"/><rect x="409" y="268.2" width="1.5" height="12.1" fill="#2b6fd0"/><rect x="411" y="265.0" width="1" height="15.0" fill="#d23c4b" opacity=".75"/><rect x="411" y="266.8" width="1.5" height="11.3" fill="#d23c4b"/><rect x="414" y="268.0" width="1" height="28.5" fill="#2b6fd0" opacity=".75"/><rect x="414" y="271.0" width="1.5" height="24.7" fill="#2b6fd0"/><rect x="416" y="282.0" width="1" height="12.0" fill="#2b6fd0" opacity=".75"/><rect x="416" y="283.3" width="1.5" height="9.5" fill="#2b6fd0"/><rect x="419" y="283.0" width="1" height="13.5" fill="#d23c4b" opacity=".75"/><rect x="419" y="284.9" width="1.5" height="8.8" fill="#d23c4b"/><rect x="421" y="290.0" width="1" height="13.0" fill="#2b6fd0" opacity=".75"/><rect x="421" y="291.5" width="1.5" height="9.5" fill="#2b6fd0"/><rect x="424" y="290.0" width="1" height="13.0" fill="#2b6fd0" opacity=".75"/><rect x="424" y="291.2" width="1.5" height="8.1" fill="#2b6fd0"/><rect x="426" y="291.0" width="1" height="12.0" fill="#2b6fd0" opacity=".75"/><rect x="426" y="291.4" width="1.5" height="8.3" fill="#2b6fd0"/><rect x="429" y="296.0" width="1" height="19.0" fill="#2b6fd0" opacity=".75"/><rect x="429" y="297.3" width="1.5" height="12.7" fill="#2b6fd0"/><rect x="432" y="287.6" width="1" height="37.7" fill="#d23c4b" opacity=".75"/><rect x="432" y="288.6" width="1.5" height="33.7" fill="#d23c4b"/><rect x="434" y="270.0" width="1" height="24.0" fill="#d23c4b" opacity=".75"/><rect x="434" y="276.5" width="1.5" height="16.2" fill="#d23c4b"/><rect x="437" y="268.0" width="1" height="22.0" fill="#d23c4b" opacity=".75"/><rect x="437" y="273.0" width="1.5" height="11.6" fill="#d23c4b"/><rect x="439" y="261.0" width="1" height="20.0" fill="#d23c4b" opacity=".75"/><rect x="439" y="266.1" width="1.5" height="10.8" fill="#d23c4b"/><rect x="442" y="261.0" width="1" height="20.0" fill="#2b6fd0" opacity=".75"/><rect x="442" y="266.7" width="1.5" height="11.9" fill="#2b6fd0"/><rect x="444" y="245.5" width="1" height="28.5" fill="#d23c4b" opacity=".75"/><rect x="444" y="250.1" width="1.5" height="19.5" fill="#d23c4b"/><rect x="447" y="237.4" width="1" height="32.6" fill="#d23c4b" opacity=".75"/><rect x="447" y="242.2" width="1.5" height="24.6" fill="#d23c4b"/><rect x="449" y="236.6" width="1" height="15.4" fill="#d23c4b" opacity=".75"/><rect x="449" y="237.9" width="1.5" height="10.4" fill="#d23c4b"/><rect x="452" y="237.0" width="1" height="17.0" fill="#2b6fd0" opacity=".75"/><rect x="452" y="237.9" width="1.5" height="11.5" fill="#2b6fd0"/><rect x="455" y="238.0" width="1" height="16.4" fill="#2b6fd0" opacity=".75"/><rect x="455" y="239.3" width="1.5" height="15.0" fill="#2b6fd0"/><rect x="457" y="238.0" width="1" height="14.0" fill="#2b6fd0" opacity=".75"/><rect x="457" y="238.4" width="1.5" height="12.5" fill="#2b6fd0"/><rect x="460" y="238.0" width="1" height="12.0" fill="#2b6fd0" opacity=".75"/><rect x="460" y="240.2" width="1.5" height="9.0" fill="#2b6fd0"/><rect x="462" y="237.4" width="1" height="7.6" fill="#d23c4b" opacity=".75"/><rect x="462" y="238.0" width="1.5" height="6.7" fill="#d23c4b"/><rect x="465" y="194.0" width="1" height="51.0" fill="#d23c4b" opacity=".75"/><rect x="465" y="194.2" width="1.5" height="35.6" fill="#d23c4b"/><rect x="467" y="194.0" width="1" height="28.0" fill="#d23c4b" opacity=".75"/><rect x="467" y="197.5" width="1.5" height="16.8" fill="#d23c4b"/><rect x="470" y="192.5" width="1" height="26.2" fill="#d23c4b" opacity=".75"/><rect x="470" y="197.4" width="1.5" height="21.0" fill="#d23c4b"/><rect x="472" y="195.0" width="1" height="27.0" fill="#2b6fd0" opacity=".75"/><rect x="472" y="200.7" width="1.5" height="13.7" fill="#2b6fd0"/><rect x="475" y="209.0" width="1" height="28.0" fill="#d23c4b" opacity=".75"/><rect x="475" y="211.2" width="1.5" height="24.3" fill="#d23c4b"/><rect x="478" y="237.0" width="1" height="24.8" fill="#2b6fd0" opacity=".75"/><rect x="478" y="243.9" width="1.5" height="13.2" fill="#2b6fd0"/><rect x="480" y="237.0" width="1" height="24.0" fill="#2b6fd0" opacity=".75"/><rect x="480" y="240.8" width="1.5" height="18.7" fill="#2b6fd0"/><rect x="483" y="237.0" width="1" height="61.0" fill="#2b6fd0" opacity=".75"/><rect x="483" y="246.2" width="1.5" height="48.6" fill="#2b6fd0"/><rect x="485" y="194.0" width="1" height="57.8" fill="#2b6fd0" opacity=".75"/><rect x="485" y="200.0" width="1.5" height="51.5" fill="#2b6fd0"/><rect x="488" y="195.0" width="1" height="31.0" fill="#d23c4b" opacity=".75"/><rect x="488" y="197.3" width="1.5" height="28.5" fill="#d23c4b"/><rect x="490" y="192.5" width="1" height="22.5" fill="#d23c4b" opacity=".75"/><rect x="490" y="197.4" width="1.5" height="13.8" fill="#d23c4b"/><rect x="493" y="170.0" width="1" height="40.0" fill="#d23c4b" opacity=".75"/><rect x="493" y="172.3" width="1.5" height="32.0" fill="#d23c4b"/><rect x="495" y="123.8" width="1" height="42.2" fill="#d23c4b" opacity=".75"/><rect x="495" y="135.6" width="1.5" height="29.0" fill="#d23c4b"/><rect x="498" y="135.0" width="1" height="26.5" fill="#2b6fd0" opacity=".75"/><rect x="498" y="141.5" width="1.5" height="16.6" fill="#2b6fd0"/><rect x="501" y="126.0" width="1" height="31.0" fill="#d23c4b" opacity=".75"/><rect x="501" y="130.6" width="1.5" height="18.6" fill="#d23c4b"/><rect x="503" y="106.6" width="1" height="33.4" fill="#2b6fd0" opacity=".75"/><rect x="503" y="110.5" width="1.5" height="24.4" fill="#2b6fd0"/><rect x="506" y="125.0" width="1" height="32.0" fill="#2b6fd0" opacity=".75"/><rect x="506" y="131.6" width="1.5" height="16.0" fill="#2b6fd0"/><rect x="508" y="130.0" width="1" height="27.0" fill="#d23c4b" opacity=".75"/><rect x="508" y="132.8" width="1.5" height="17.5" fill="#d23c4b"/><rect x="511" y="119.4" width="1" height="33.2" fill="#2b6fd0" opacity=".75"/><rect x="511" y="126.4" width="1.5" height="19.8" fill="#2b6fd0"/><rect x="513" y="135.0" width="1" height="35.4" fill="#2b6fd0" opacity=".75"/><rect x="513" y="139.3" width="1.5" height="27.4" fill="#2b6fd0"/><rect x="516" y="141.6" width="1" height="28.8" fill="#2b6fd0" opacity=".75"/><rect x="516" y="142.1" width="1.5" height="27.2" fill="#2b6fd0"/><rect x="518" y="160.0" width="1" height="39.0" fill="#2b6fd0" opacity=".75"/><rect x="518" y="160.8" width="1.5" height="29.5" fill="#2b6fd0"/><rect x="521" y="168.0" width="1" height="31.0" fill="#2b6fd0" opacity=".75"/><rect x="521" y="170.4" width="1.5" height="27.1" fill="#2b6fd0"/><rect x="523" y="179.0" width="1" height="26.0" fill="#2b6fd0" opacity=".75"/><rect x="523" y="179.7" width="1.5" height="18.8" fill="#2b6fd0"/><rect x="526" y="179.0" width="1" height="43.0" fill="#2b6fd0" opacity=".75"/><rect x="526" y="190.2" width="1.5" height="23.1" fill="#2b6fd0"/><rect x="529" y="195.0" width="1" height="30.6" fill="#2b6fd0" opacity=".75"/><rect x="529" y="197.6" width="1.5" height="25.8" fill="#2b6fd0"/><rect x="531" y="199.0" width="1" height="20.0" fill="#2b6fd0" opacity=".75"/><rect x="531" y="200.8" width="1.5" height="15.5" fill="#2b6fd0"/><rect x="534" y="200.0" width="1" height="20.0" fill="#d23c4b" opacity=".75"/><rect x="534" y="200.9" width="1.5" height="16.4" fill="#d23c4b"/><rect x="536" y="199.0" width="1" height="22.0" fill="#d23c4b" opacity=".75"/><rect x="536" y="200.7" width="1.5" height="13.9" fill="#d23c4b"/><rect x="539" y="199.0" width="1" height="15.7" fill="#d23c4b" opacity=".75"/><rect x="539" y="203.6" width="1.5" height="8.5" fill="#d23c4b"/><rect x="541" y="200.0" width="1" height="20.0" fill="#2b6fd0" opacity=".75"/><rect x="541" y="201.5" width="1.5" height="12.7" fill="#2b6fd0"/><rect x="544" y="199.0" width="1" height="23.0" fill="#d23c4b" opacity=".75"/><rect x="544" y="201.1" width="1.5" height="18.4" fill="#d23c4b"/><rect x="546" y="203.6" width="1" height="18.4" fill="#d23c4b" opacity=".75"/><rect x="546" y="203.6" width="1.5" height="16.3" fill="#d23c4b"/><rect x="549" y="204.0" width="1" height="13.0" fill="#2b6fd0" opacity=".75"/><rect x="549" y="205.9" width="1.5" height="9.2" fill="#2b6fd0"/><rect x="552" y="204.0" width="1" height="13.0" fill="#d23c4b" opacity=".75"/><rect x="552" y="204.8" width="1.5" height="10.2" fill="#d23c4b"/><rect x="554" y="210.6" width="1" height="28.1" fill="#2b6fd0" opacity=".75"/><rect x="554" y="210.6" width="1.5" height="25.8" fill="#2b6fd0"/><rect x="557" y="225.6" width="1" height="13.1" fill="#d23c4b" opacity=".75"/><rect x="557" y="226.0" width="1.5" height="11.2" fill="#d23c4b"/><rect x="559" y="227.5" width="1" height="19.5" fill="#2b6fd0" opacity=".75"/><rect x="559" y="227.7" width="1.5" height="19.1" fill="#2b6fd0"/><rect x="562" y="242.4" width="1" height="3.6" fill="#d23c4b" opacity=".75"/><rect x="562" y="242.7" width="1.5" height="3.0" fill="#d23c4b"/></g>
<line x1="203" y1="352" x2="297" y2="255" stroke="#1a1a1a" stroke-width="1.05"/>
<line x1="460.5" y1="226" x2="504.3" y2="110.5" stroke="#d6339a" stroke-width="1.4"/>
</svg>
<div class="t " style="left:27.0px;top:28.20px;font-size:11.7px;font-weight:bold;color:#222">삼양식품</div>
<div class="t " style="left:83.2px;top:26.70px;font-size:13px;color:#888">시</div>
<div class="t h" style="left:97.0px;top:27.94px;font-size:12px;color:#222">87,600</div>
<div class="t " style="left:138.7px;top:26.70px;font-size:13px;color:#888">고</div>
<div class="t h" style="left:152.5px;top:27.94px;font-size:12px;color:#222">89,100</div>
<div class="t " style="left:194.6px;top:26.70px;font-size:13px;color:#888">저</div>
<div class="t h" style="left:207.5px;top:27.94px;font-size:12px;color:#222">87,400</div>
<div class="t " style="left:248.7px;top:26.70px;font-size:13px;color:#888">종</div>
<div class="t h" style="left:263.5px;top:27.94px;font-size:12px;color:#222">88,000</div>
<svg style="position:absolute;left:303px;top:31px" width="9" height="6"><path d="M0.5 5.8 L4.3 0.6 L8.1 5.8 Z" fill="#d9363e"/></svg>
<div class="t h" style="left:313.0px;top:27.94px;font-size:12px;color:#d9363e">900</div>
<div class="t h" style="left:336.3px;top:27.94px;font-size:12px;color:#d9363e">+1.03%</div>
<div class="t " style="left:382.9px;top:26.70px;font-size:13px;color:#888">거</div>
<div class="t h" style="left:396.3px;top:27.94px;font-size:12px;color:#222">32,033</div>
<div class="t " style="left:26.6px;top:53.78px;font-size:11.6px;color:#444">이동평균</div>
<div class="t " style="left:79.5px;top:55.19px;font-size:11px;color:#3aa84a">5</div>
<div class="t " style="left:89.5px;top:55.19px;font-size:11px;color:#d9475a">20</div>
<div class="t " style="left:105.5px;top:55.19px;font-size:11px;color:#f08a5a">60</div>
<div class="t " style="left:123.0px;top:55.19px;font-size:11px;color:#7a5fd8">120</div>
<div class="t " style="left:579.5px;top:125.04px;font-size:12px;color:#444">130,880</div>
<div class="t " style="left:579.5px;top:160.04px;font-size:12px;color:#444">117,792</div>
<div class="t " style="left:579.5px;top:195.04px;font-size:12px;color:#444">104,704</div>
<div class="t " style="left:579.5px;top:230.04px;font-size:12px;color:#444">91,616</div>
<div class="t " style="left:579.5px;top:265.04px;font-size:12px;color:#444">78,528</div>
<div class="t " style="left:579.5px;top:300.04px;font-size:12px;color:#444">65,440</div>
<div class="t " style="left:579.5px;top:335.04px;font-size:12px;color:#444">52,352</div>
<div class="t " style="left:579.5px;top:370.04px;font-size:12px;color:#444">39,264</div>
<div class="t " style="left:579.5px;top:405.04px;font-size:12px;color:#444">26,176</div>
<div class="t " style="left:579.0px;top:473.74px;font-size:12px;color:#444">3.08m</div>
<div class="t " style="left:579.0px;top:488.74px;font-size:12px;color:#444">2.31m</div>
<div class="t " style="left:579.0px;top:503.74px;font-size:12px;color:#444">1.54m</div>
<div class="t " style="left:579.0px;top:518.74px;font-size:12px;color:#444">771k</div>
<div class="t " style="left:34.3px;top:545.64px;font-size:12px;color:#7a7a7a">2015</div>
<div class="t " style="left:119.5px;top:545.64px;font-size:12px;color:#7a7a7a">2016</div>
<div class="t " style="left:203.0px;top:545.64px;font-size:12px;color:#7a7a7a">2017</div>
<div class="t " style="left:284.5px;top:545.64px;font-size:12px;color:#7a7a7a">2018</div>
<div class="t " style="left:367.0px;top:545.64px;font-size:12px;color:#7a7a7a">2019</div>
<div class="t " style="left:450.0px;top:545.64px;font-size:12px;color:#7a7a7a">2020</div>
<div class="t " style="left:535.0px;top:545.64px;font-size:12px;color:#7a7a7a">2021</div>
<svg style="position:absolute;left:560px;top:230px" width="81" height="30"><path d="M7 14.7 L16.5 6 L81 6 L81 24 L16.5 24 Z" fill="#465f9c"/></svg>
<div class="t " style="left:395.5px;top:96.03px;font-size:10.6px;color:#6a7bab">최고</div>
<div class="t " style="left:418.0px;top:95.69px;font-size:11px;font-weight:bold;color:#6a7bab;letter-spacing:-0.55px">140,000(+37.44%)</div>
<div style="position:absolute;left:448.0px;top:99.0px;width:119.2px;height:13px;background:rgba(255,255,255,.88)"></div><div class="t " style="left:449.5px;top:101.48px;font-size:10.3px;color:#222">2020-06-26</div><div class="t " style="left:504.8px;top:101.48px;font-size:10.3px;color:#333">시가</div><div class="t " style="left:525.6px;top:101.48px;font-size:10.3px;color:#222">135,500</div>
<div style="position:absolute;left:401.0px;top:224.6px;width:113.6px;height:13px;background:rgba(255,255,255,.88)"></div><div class="t " style="left:402.5px;top:227.08px;font-size:10.3px;color:#222">2019-11-22</div><div class="t " style="left:457.8px;top:227.08px;font-size:10.3px;color:#333">시가</div><div class="t " style="left:478.6px;top:227.08px;font-size:10.3px;color:#222">91,300</div>
<div style="position:absolute;left:245.0px;top:240.6px;width:113.6px;height:13px;background:rgba(255,255,255,.88)"></div><div class="t " style="left:246.5px;top:243.08px;font-size:10.3px;color:#222">2018-01-12</div><div class="t " style="left:301.8px;top:243.08px;font-size:10.3px;color:#333">시가</div><div class="t " style="left:322.6px;top:243.08px;font-size:10.3px;color:#222">94,500</div>
<div style="position:absolute;left:138.2px;top:350.6px;width:113.6px;height:13px;background:rgba(255,255,255,.88)"></div><div class="t " style="left:139.7px;top:353.08px;font-size:10.3px;color:#222">2016-09-23</div><div class="t " style="left:195.0px;top:353.08px;font-size:10.3px;color:#333">시가</div><div class="t " style="left:215.8px;top:353.08px;font-size:10.3px;color:#222">29,650</div>
<svg style="position:absolute;left:47px;top:432px" width="7" height="5"><path d="M0.8 4.5 L3.5 0.5 L6.2 4.5 Z" fill="#6a7bab"/></svg>
<div class="t " style="left:55.5px;top:430.69px;font-size:11px;color:#6a7bab">최저</div>
<div class="t " style="left:78.3px;top:430.19px;font-size:11px;font-weight:bold;color:#6a7bab;letter-spacing:-0.6px">20,400 (331.37%)</div>
<div class="t " style="left:26.5px;top:458.10px;font-size:11.7px;color:#333">거래량</div>
<div class="t " style="left:65.5px;top:457.74px;font-size:12px;font-weight:bold;color:#111">32,033</div>
<div class="t " style="left:578.7px;top:239.54px;font-size:12px;color:#fff">88,000</div>
</body></html>
